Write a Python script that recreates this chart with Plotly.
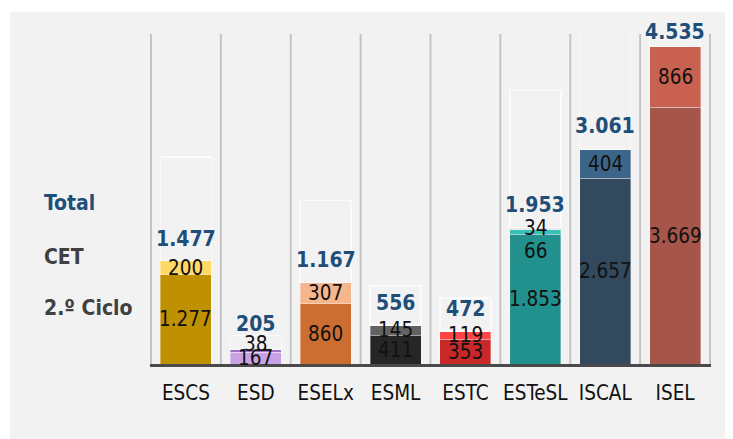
import plotly.graph_objects as go

# ---------------- data ----------------
categories = ["ESCS", "ESD", "ESELx", "ESML", "ESTC", "ESTeSL", "ISCAL", "ISEL"]
ciclo2 = [1277, 167, 860, 411, 353, 1853, 2657, 3669]
cet = [200, 38, 307, 145, 119, 66, 404, 866]
outros = [0, 0, 0, 0, 0, 34, 0, 0]
totals = [1477, 205, 1167, 556, 472, 1953, 3061, 4535]
legend_labels = ["Total", "CET", "2.º Ciclo"]

# ---------------- style ----------------
c2_colors = ["#bf9000", "#c8a0e4", "#cc6d31", "#262626", "#c82828", "#22908c", "#33495e", "#a5554a"]
cet_colors = ["#ffd966", "#9f6fc6", "#f5b68d", "#626262", "#ff4444", "#36c2b8", "#3c6689", "#c86150"]
outros_colors = ["#e6e6e6"] * 8
BG = "#f2f2f2"
FONT = "DejaVu Sans Condensed, DejaVu Sans, sans-serif"
TOTAL_COLOR = "#1f4e79"
LEG_COLOR = "#404040"

# label pixel nudges (collision handling like the original)
seg_nudge = {("cet", 1): 7, ("cet", 5): -19}
total_nudge = {1: 4, 6: 2, 7: -7}


def fmt(v):
    return f"{v:,}".replace(",", ".")


fig = go.Figure()
seg_line = dict(color="rgba(255,255,255,0.35)", width=1)
fig.add_bar(x=categories, y=ciclo2, marker=dict(color=c2_colors, line=seg_line), name="2.º Ciclo")
fig.add_bar(x=categories, y=cet, marker=dict(color=cet_colors, line=seg_line), name="CET")
fig.add_bar(x=categories, y=outros, marker=dict(color=outros_colors, line=seg_line), name="Outros")
fig.add_bar(x=categories, y=totals,
            marker=dict(color="rgba(0,0,0,0)", line=dict(color="#fbfbfb", width=1.5)),
            name="Total")

ann = []
# segment labels
for i, c in enumerate(categories):
    base = 0
    for key, vals in (("c2", ciclo2), ("cet", cet), ("out", outros)):
        v = vals[i]
        if v > 0:
            ann.append(dict(x=c, y=base + v / 2, text=fmt(v), showarrow=False,
                            yanchor="middle", yshift=seg_nudge.get((key, i), 0),
                            font=dict(family=FONT, size=20.5, color="#111111")))
        base += v
    ann.append(dict(x=c, y=totals[i], text="<b>" + fmt(totals[i]) + "</b>", showarrow=False,
                    yanchor="middle", yshift=22 + total_nudge.get(i, 0),
                    font=dict(family=FONT, size=21, color=TOTAL_COLOR)))

# left "legend" labels
leg_y = [0.488, 0.324, 0.170]
leg_col = [TOTAL_COLOR, LEG_COLOR, LEG_COLOR]
for t, yy, col in zip(legend_labels, leg_y, leg_col):
    ann.append(dict(xref="paper", yref="paper", x=-0.1925, y=yy, xanchor="left", yanchor="middle",
                    text="<b>" + t + "</b>", showarrow=False,
                    font=dict(family=FONT, size=21, color=col)))

shapes = [dict(type="rect", xref="paper", yref="paper", x0=-0.2496, x1=1.06, y0=-0.26, y1=1.0667,
               fillcolor=BG, line=dict(width=0), layer="below")]
for i in range(len(categories) + 1):
    shapes.append(dict(type="line", xref="x", yref="paper", x0=i - 0.5, x1=i - 0.5, y0=0, y1=1,
                       line=dict(color="#c4c4c4", width=2), layer="below"))

fig.update_layout(
    width=733, height=439,
    margin=dict(l=142, r=30, t=26, b=83),
    paper_bgcolor="white", plot_bgcolor=BG,
    barmode="stack", bargap=0.27,
    showlegend=False,
    annotations=ann, shapes=shapes,
    xaxis=dict(showline=True, linecolor="#4a4a4a", linewidth=3, ticks="outside", ticklen=8,
               tickcolor="rgba(0,0,0,0)", tickfont=dict(family=FONT, size=20.5, color="#111111"),
               showgrid=False, fixedrange=True),
    yaxis=dict(range=[0, 4714], visible=False, showgrid=False, fixedrange=True),
)

fig.write_html("out.html")
